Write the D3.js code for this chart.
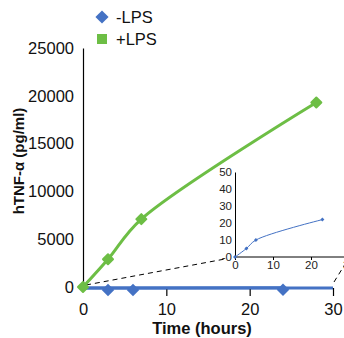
<!DOCTYPE html>
<html><head><meta charset="utf-8">
<script src="https://cdn.jsdelivr.net/npm/d3@7"></script>
<style>
html,body{margin:0;padding:0;background:#fff;}
svg{display:block;font-family:"Liberation Sans Narrow","Liberation Sans",Arial,sans-serif;}
</style></head>
<body><svg id="c" width="344" height="338"></svg>
<script>
// ---- data ----
const seriesNames = ["-LPS", "+LPS"];
const timesMinus = [0, 3, 6, 24];
const valuesMinus = [0, 5, 10, 22];
const timesPlus = [0, 3, 7, 28];
const valuesPlus = [0, 2900, 7100, 19300];
const yTicks = [0, 5000, 10000, 15000, 20000, 25000];
const xTicks = [0, 10, 20, 30];
const insetTimes = [0, 3, 5.5, 23];
const insetValues = [0, 5, 10, 22];
const insetYTicks = [0, 10, 20, 30, 40, 50];
const insetYLabels = ["-0", "10", "20", "30", "40", "50"];
const insetXTicks = [0, 10, 20, 30];

const blue = "#4472C4", green = "#6DBE45";
const svg = d3.select("#c");

const x = d3.scaleLinear().domain([0, 30]).range([83, 333]);
const y = d3.scaleLinear().domain([0, 25000]).range([287, 48]);

// y axis
const yAxis = svg.append("g").attr("transform", `translate(${x(0)},0)`)
  .call(d3.axisLeft(y).tickValues(yTicks).tickSize(0).tickPadding(9).tickFormat(d3.format("d")));
yAxis.select(".domain").attr("stroke", "#000").attr("stroke-width", 1.2);
yAxis.selectAll("text").attr("font-size", 16.5).attr("fill", "#111");

// x axis (blue baseline)
const xAxis = svg.append("g").attr("transform", `translate(0,${y(0) + 1})`)
  .call(d3.axisBottom(x).tickValues(xTicks).tickSize(8).tickPadding(7).tickFormat(d3.format("d")));
xAxis.select(".domain").attr("stroke", blue).attr("stroke-width", 3).attr("d", `M${x(0)},0H${x(30)}`);
xAxis.selectAll(".tick line").attr("stroke", "#000").attr("stroke-width", 1.2)
  .filter(d => d === 0).remove();
xAxis.selectAll("text").attr("font-size", 16.5).attr("fill", "#111");

// dashed connector lines
const xi = d3.scaleLinear().domain([0, 30]).range([235, 349]);
const yi = d3.scaleLinear().domain([0, 50]).range([257, 172]);
svg.append("line").attr("x1", x(0) + 3).attr("y1", y(0) - 2).attr("x2", xi(0) - 10).attr("y2", yi(0) + 2)
  .attr("stroke", "#000").attr("stroke-width", 1).attr("stroke-dasharray", "5,4");
svg.append("line").attr("x1", x(30) + 1).attr("y1", y(0) - 5).attr("x2", xi(30) - 2).attr("y2", yi(0) + 4)
  .attr("stroke", "#000").attr("stroke-width", 1).attr("stroke-dasharray", "5,4");

// -LPS series
svg.append("path").datum(timesMinus.map((t, i) => [t, valuesMinus[i]]))
  .attr("fill", "none").attr("stroke", blue).attr("stroke-width", 3)
  .attr("d", d3.line().x(d => x(d[0])).y(d => y(d[1]) + 1));
svg.selectAll(".dm").data(timesMinus.slice(1).map((t, i) => [t, valuesMinus[i + 1]])).join("path")
  .attr("transform", d => `translate(${x(d[0])},${y(d[1]) + 3})`)
  .attr("d", d3.symbol(d3.symbolDiamond2, 100)()).attr("fill", blue);

// +LPS series
svg.append("path").datum(timesPlus.map((t, i) => [t, valuesPlus[i]]))
  .attr("fill", "none").attr("stroke", green).attr("stroke-width", 3)
  .attr("d", d3.line().x(d => x(d[0])).y(d => y(d[1])).curve(d3.curveCatmullRom.alpha(0.5)));
svg.selectAll(".gm").data(timesPlus.map((t, i) => [t, valuesPlus[i]])).join("path")
  .attr("transform", d => `translate(${x(d[0])},${y(d[1])})`)
  .attr("d", d3.symbol(d3.symbolDiamond2, 64)()).attr("fill", green)
  .attr("stroke", green).attr("stroke-width", 2).attr("stroke-linejoin", "round");

// inset
const iy = svg.append("g").attr("transform", `translate(${xi(0)},0)`)
  .call(d3.axisLeft(yi).tickValues(insetYTicks).tickSize(0).tickPadding(3)
    .tickFormat((d, i) => insetYLabels[i]));
iy.select(".domain").attr("stroke", "#000").attr("stroke-width", 1);
iy.selectAll("text").attr("font-size", 11.5).attr("fill", "#222");
const ix = svg.append("g").attr("transform", `translate(0,${yi(0)})`)
  .call(d3.axisBottom(xi).tickValues(insetXTicks).tickSize(3).tickPadding(1).tickFormat(d3.format("d")));
ix.select(".domain").attr("stroke", "#000").attr("stroke-width", 1).attr("d", `M${xi(0)},0H344`);
ix.selectAll(".tick line").attr("stroke", "#000");
ix.selectAll("text").attr("font-size", 11.5).attr("fill", "#222");

svg.append("path").datum(insetTimes.map((t, i) => [t, insetValues[i]]))
  .attr("fill", "none").attr("stroke", blue).attr("stroke-width", 1)
  .attr("d", d3.line().x(d => xi(d[0])).y(d => yi(d[1])).curve(d3.curveCatmullRom.alpha(0.5)));
svg.selectAll(".im").data(insetTimes.map((t, i) => [t, insetValues[i]])).join("path")
  .attr("transform", d => `translate(${xi(d[0])},${yi(d[1])})`)
  .attr("d", d3.symbol(d3.symbolDiamond2, 10)()).attr("fill", blue);

// legend
const leg = svg.append("g");
leg.append("path").attr("transform", "translate(102,17)").attr("d", d3.symbol(d3.symbolDiamond2, 110)()).attr("fill", blue);
leg.append("rect").attr("x", 97).attr("y", 34).attr("width", 10).attr("height", 10).attr("fill", green);
leg.append("text").attr("x", 116).attr("y", 23).attr("font-size", 16.5).attr("fill", "#111").text(seriesNames[0]);
leg.append("text").attr("x", 116).attr("y", 45).attr("font-size", 16.5).attr("fill", "#111").text(seriesNames[1]);

// axis titles
svg.append("text").attr("transform", "translate(24,161) rotate(-90)").attr("text-anchor", "middle")
  .attr("font-size", 15).attr("font-weight", "bold").attr("fill", "#111")
  .text("hTNF-α (pg/ml)");
svg.append("text").attr("x", 202).attr("y", 334).attr("text-anchor", "middle")
  .attr("font-size", 16.5).attr("font-weight", "bold").attr("fill", "#111")
  .text("Time (hours)");
</script></body></html>
